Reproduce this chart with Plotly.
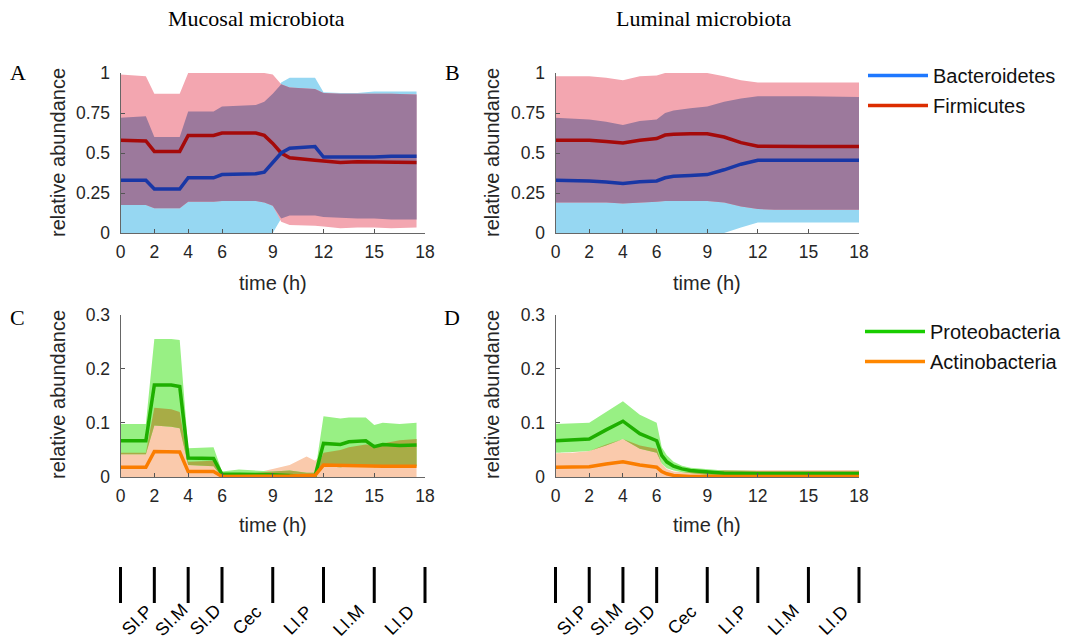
import plotly.graph_objects as go

# ---------------- data ----------------
xticks = [0, 2, 4, 6, 9, 12, 15, 18]
region_bounds = [0, 2, 4, 6, 9, 12, 15, 18]
region_labels = ["SI.P", "SI.M", "SI.D", "Cec", "LI.P", "LI.M", "LI.D"]

# Panel A - mucosal, Bacteroidetes / Firmicutes
tA = [0, 1.5, 2, 3.5, 4, 5.5, 6, 8, 8.5, 9, 9.5, 10, 11.5, 12, 13, 14, 15, 16, 17.5]
bacA_mean = [0.33, 0.33, 0.275, 0.275, 0.345, 0.345, 0.365, 0.37, 0.38, 0.44, 0.50, 0.53, 0.54, 0.475, 0.475, 0.47, 0.475, 0.48, 0.48]
bacA_hi = [0.72, 0.73, 0.60, 0.60, 0.76, 0.76, 0.79, 0.80, 0.82, 0.87, 0.94, 0.97, 0.97, 0.88, 0.875, 0.875, 0.885, 0.885, 0.885]
bacA_lo = [0, 0, 0, 0, 0, 0, 0, 0, 0, 0, 0.09, 0.11, 0.11, 0.10, 0.095, 0.09, 0.09, 0.085, 0.085]
firA_mean = [0.58, 0.575, 0.51, 0.51, 0.61, 0.61, 0.625, 0.625, 0.61, 0.56, 0.50, 0.47, 0.455, 0.45, 0.44, 0.445, 0.445, 0.445, 0.44]
firA_hi = [0.99, 0.98, 0.87, 0.87, 1.0, 1.0, 1.0, 1.0, 1.0, 0.99, 0.93, 0.91, 0.90, 0.875, 0.87, 0.87, 0.87, 0.87, 0.865]
firA_lo = [0.175, 0.175, 0.155, 0.155, 0.195, 0.195, 0.2, 0.2, 0.19, 0.17, 0.07, 0.05, 0.045, 0.04, 0.03, 0.035, 0.035, 0.03, 0.035]

# Panel B - luminal, Bacteroidetes / Firmicutes
tB = [0, 1, 2, 3, 4, 5, 6, 6.5, 7, 8, 9, 10, 11, 12, 13, 15, 18]
bacB_mean = [0.33, 0.328, 0.325, 0.318, 0.31, 0.32, 0.325, 0.345, 0.355, 0.36, 0.365, 0.395, 0.43, 0.455, 0.455, 0.455, 0.455]
bacB_hi = [0.72, 0.715, 0.71, 0.695, 0.675, 0.70, 0.71, 0.75, 0.765, 0.78, 0.79, 0.82, 0.84, 0.855, 0.855, 0.855, 0.85]
bacB_lo = [0, 0, 0, 0, 0, 0, 0, 0, 0, 0, 0, 0, 0.035, 0.065, 0.065, 0.065, 0.065]
firB_mean = [0.58, 0.58, 0.58, 0.572, 0.563, 0.58, 0.59, 0.612, 0.617, 0.62, 0.62, 0.60, 0.565, 0.542, 0.54, 0.54, 0.54]
firB_hi = [0.98, 0.98, 0.98, 0.97, 0.955, 0.98, 0.985, 1.0, 1.0, 1.0, 1.0, 0.98, 0.955, 0.94, 0.94, 0.94, 0.94]
firB_lo = [0.19, 0.19, 0.19, 0.19, 0.185, 0.19, 0.195, 0.2, 0.2, 0.2, 0.2, 0.19, 0.165, 0.15, 0.145, 0.145, 0.145]

# Panel C - mucosal, Proteobacteria / Actinobacteria
tC = [0, 1.5, 2, 3, 3.5, 4, 5.5, 6, 7, 8, 9, 10, 11, 11.5, 12, 13, 13.5, 14.5, 15, 15.5, 16.5, 17.5]
proC_mean = [0.067, 0.067, 0.17, 0.17, 0.167, 0.035, 0.034, 0.005, 0.005, 0.005, 0.004, 0.003, 0.001, 0.002, 0.062, 0.06, 0.065, 0.067, 0.056, 0.06, 0.058, 0.059]
proC_hi = [0.098, 0.098, 0.255, 0.255, 0.253, 0.053, 0.055, 0.01, 0.014, 0.012, 0.01, 0.012, 0.008, 0.008, 0.112, 0.108, 0.11, 0.11, 0.096, 0.1, 0.098, 0.1]
proC_lo = [0.042, 0.042, 0.095, 0.093, 0.09, 0.022, 0.02, 0, 0, 0, 0, 0, 0, 0, 0.02, 0.018, 0.02, 0.022, 0.018, 0.02, 0.02, 0.02]
actC_mean = [0.018, 0.018, 0.047, 0.047, 0.046, 0.01, 0.01, 0.001, 0.001, 0.001, 0.001, 0.002, 0.003, 0.003, 0.022, 0.021, 0.022, 0.021, 0.02, 0.02, 0.02, 0.02]
actC_hi = [0.045, 0.045, 0.128, 0.125, 0.12, 0.028, 0.03, 0.004, 0.005, 0.008, 0.015, 0.022, 0.038, 0.03, 0.045, 0.05, 0.055, 0.06, 0.058, 0.062, 0.068, 0.07]
actC_lo = [0] * len(tC)

# Panel D - luminal, Proteobacteria / Actinobacteria
tD = [0, 1, 2, 3, 4, 5, 6, 6.3, 6.6, 7, 7.5, 8, 9, 10, 12, 15, 18]
proD_mean = [0.067, 0.068, 0.07, 0.087, 0.103, 0.08, 0.067, 0.04, 0.028, 0.02, 0.015, 0.012, 0.009, 0.007, 0.006, 0.006, 0.006]
proD_hi = [0.098, 0.099, 0.1, 0.12, 0.14, 0.115, 0.1, 0.055, 0.04, 0.028, 0.021, 0.017, 0.014, 0.012, 0.011, 0.011, 0.011]
proD_lo = [0.045, 0.046, 0.048, 0.058, 0.07, 0.052, 0.045, 0.025, 0.016, 0.012, 0.009, 0.007, 0.004, 0.003, 0.002, 0.002, 0.002]
actD_mean = [0.018, 0.019, 0.019, 0.024, 0.028, 0.022, 0.018, 0.01, 0.006, 0.003, 0.002, 0.001, 0.001, 0.001, 0.001, 0.001, 0.001]
actD_hi = [0.044, 0.045, 0.048, 0.06, 0.07, 0.058, 0.052, 0.025, 0.015, 0.01, 0.009, 0.009, 0.01, 0.012, 0.012, 0.013, 0.013]
actD_lo = [0] * len(tD)

# ---------------- styles ----------------
BAC_BAND, FIR_BAND, BF_OVER = "rgb(150,215,242)", "rgb(243,166,176)", "rgb(156,121,156)"
BAC_LINE, FIR_LINE = "rgb(25,55,165)", "rgb(165,10,10)"
PRO_BAND, ACT_BAND, PA_OVER = "rgb(152,240,132)", "rgb(250,202,172)", "rgb(168,172,70)"
PRO_LINE, ACT_LINE = "rgb(30,175,0)", "rgb(250,125,0)"
LEG = {"Bacteroidetes": "rgb(30,120,255)", "Firmicutes": "rgb(220,45,0)",
       "Proteobacteria": "rgb(25,205,0)", "Actinobacteria": "rgb(255,135,0)"}

SANS = "Liberation Sans, Arial, sans-serif"
SERIF = "Liberation Serif, Times New Roman, serif"
TXT = "#262626"

fig = go.Figure()


def band(t, lo, hi, color, xa, ya):
    fig.add_trace(go.Scatter(x=list(t) + list(t)[::-1], y=list(hi) + list(lo)[::-1],
                             fill="toself", fillcolor=color, line=dict(width=0),
                             mode="lines", hoverinfo="skip", showlegend=False,
                             xaxis=xa, yaxis=ya))


def panel(t, s1, s2, c1, c2, cov, l1, l2, xa, ya):
    m1, lo1, hi1 = s1
    m2, lo2, hi2 = s2
    band(t, lo1, hi1, c1, xa, ya)
    band(t, lo2, hi2, c2, xa, ya)
    olo = [max(a, b) for a, b in zip(lo1, lo2)]
    ohi = [min(a, b) for a, b in zip(hi1, hi2)]
    ohi = [max(h, l) for h, l in zip(ohi, olo)]
    band(t, olo, ohi, cov, xa, ya)
    fig.add_trace(go.Scatter(x=t, y=m2, mode="lines", line=dict(color=l2, width=3.5),
                             showlegend=False, xaxis=xa, yaxis=ya))
    fig.add_trace(go.Scatter(x=t, y=m1, mode="lines", line=dict(color=l1, width=3.5),
                             showlegend=False, xaxis=xa, yaxis=ya))


panel(tA, (bacA_mean, bacA_lo, bacA_hi), (firA_mean, firA_lo, firA_hi),
      BAC_BAND, FIR_BAND, BF_OVER, BAC_LINE, FIR_LINE, "x", "y")
panel(tB, (bacB_mean, bacB_lo, bacB_hi), (firB_mean, firB_lo, firB_hi),
      BAC_BAND, FIR_BAND, BF_OVER, BAC_LINE, FIR_LINE, "x2", "y2")
panel(tC, (actC_mean, actC_lo, actC_hi), (proC_mean, proC_lo, proC_hi),
      ACT_BAND, PRO_BAND, PA_OVER, ACT_LINE, PRO_LINE, "x3", "y3")
panel(tD, (actD_mean, actD_lo, actD_hi), (proD_mean, proD_lo, proD_hi),
      ACT_BAND, PRO_BAND, PA_OVER, ACT_LINE, PRO_LINE, "x4", "y4")

# gut region boundary bars (own hidden axes below each column)
for xa, ya in [("x5", "y5"), ("x6", "y6")]:
    bx, by = [], []
    for b in region_bounds:
        bx += [b, b, None]
        by += [0, 1, None]
    fig.add_trace(go.Scatter(x=bx, y=by, mode="lines", line=dict(color="black", width=3),
                             showlegend=False, hoverinfo="skip", xaxis=xa, yaxis=ya))

# legend entries
for name in ["Bacteroidetes", "Firmicutes"]:
    fig.add_trace(go.Scatter(x=[None], y=[None], mode="lines", name=name,
                             line=dict(color=LEG[name], width=3.5), legend="legend",
                             legendgroup=name, xaxis="x", yaxis="y"))
for name in ["Proteobacteria", "Actinobacteria"]:
    fig.add_trace(go.Scatter(x=[None], y=[None], mode="lines", name=name,
                             line=dict(color=LEG[name], width=3.5), legend="legend2",
                             legendgroup=name, xaxis="x3", yaxis="y3"))

W, H = 1065, 640
px = lambda v: v / W
py = lambda v: 1 - v / H

xcommon = dict(range=[0, 18], tickvals=xticks, ticktext=[str(v) for v in xticks],
               ticks="inside", ticklen=4, tickcolor="#555", showline=True, linecolor="#666",
               linewidth=1, showgrid=False, zeroline=False, fixedrange=True,
               tickfont=dict(family=SANS, size=17.5, color=TXT), ticklabelstandoff=3)
ycommon = dict(ticks="inside", ticklen=4, tickcolor="#555", showline=True, linecolor="#666",
               linewidth=1, showgrid=False, zeroline=False, fixedrange=True,
               tickfont=dict(family=SANS, size=17.5, color=TXT), ticklabelstandoff=6)
hidden = dict(visible=False, fixedrange=True, showgrid=False, zeroline=False)
y1ticks = [0, 0.25, 0.5, 0.75, 1]
y2ticks = [0, 0.1, 0.2, 0.3]

A_L, A_R, B_L, B_R = 120.5, 425.0, 555.5, 859.0
dxA = [px(A_L), px(A_R)]
dxB = [px(B_L), px(B_R)]
dyT = [py(233), py(73)]
dyB = [py(477), py(314.5)]
dyS = [py(603), py(567)]

# hidden strip axes: same scale as the panels, padded so the end bars are not clipped
PAD = 0.5
padA = PAD * (A_R - A_L) / 18
padB = PAD * (B_R - B_L) / 18
dxA_s = [px(A_L - padA), px(A_R + padA)]
dxB_s = [px(B_L - padB), px(B_R + padB)]

fig.update_layout(
    width=W, height=H, margin=dict(l=0, r=0, t=0, b=0, autoexpand=False),
    paper_bgcolor="white", plot_bgcolor="rgba(0,0,0,0)",
    xaxis=dict(domain=dxA, anchor="y", **xcommon),
    xaxis2=dict(domain=dxB, anchor="y2", **xcommon),
    xaxis3=dict(domain=dxA, anchor="y3", **xcommon),
    xaxis4=dict(domain=dxB, anchor="y4", **xcommon),
    xaxis5=dict(domain=dxA_s, anchor="y5", range=[-PAD, 18 + PAD], **hidden),
    xaxis6=dict(domain=dxB_s, anchor="y6", range=[-PAD, 18 + PAD], **hidden),
    yaxis=dict(domain=dyT, anchor="x", range=[0, 1], tickvals=y1ticks,
               ticktext=["0", "0.25", "0.5", "0.75", "1"], **ycommon),
    yaxis2=dict(domain=dyT, anchor="x2", range=[0, 1], tickvals=y1ticks,
                ticktext=["0", "0.25", "0.5", "0.75", "1"], **ycommon),
    yaxis3=dict(domain=dyB, anchor="x3", range=[0, 0.3], tickvals=y2ticks,
                ticktext=["0", "0.1", "0.2", "0.3"], **ycommon),
    yaxis4=dict(domain=dyB, anchor="x4", range=[0, 0.3], tickvals=y2ticks,
                ticktext=["0", "0.1", "0.2", "0.3"], **ycommon),
    yaxis5=dict(domain=dyS, anchor="x5", range=[0, 1], **hidden),
    yaxis6=dict(domain=dyS, anchor="x6", range=[0, 1], **hidden),
    legend=dict(x=px(863), y=py(56), xanchor="left", yanchor="top",
                font=dict(family=SANS, size=20, color="#111"), itemwidth=60,
                tracegroupgap=1, bgcolor="rgba(0,0,0,0)"),
    legend2=dict(x=px(860), y=py(312), xanchor="left", yanchor="top",
                 font=dict(family=SANS, size=20, color="#111"), itemwidth=60,
                 tracegroupgap=1, bgcolor="rgba(0,0,0,0)"),
)

ann = []


def text(t, x, y, size, family=SANS, color=TXT, angle=0, xref="paper"):
    ann.append(dict(text=t, x=x, y=y, xref=xref, yref="paper", xanchor="center",
                    yanchor="middle", textangle=angle, showarrow=False,
                    font=dict(family=family, size=size, color=color)))


# titles
text("Mucosal microbiota", px(256), py(19), 22, SERIF, "black")
text("Luminal microbiota", px(704), py(19), 22, SERIF, "black")
# panel letters
for letter, xx, yy in [("A", 18, 73), ("B", 452, 73), ("C", 18, 317), ("D", 452, 317)]:
    text(letter, px(xx), py(yy), 22, SERIF, "black")
# axis titles
for xx in [58, 492]:
    for yc in [153, 395]:
        text("relative abundance", px(xx), py(yc), 20, angle=-90)
for xc in [272.5, 707]:
    for yc in [283, 525]:
        text("time (h)", px(xc), py(yc), 20)
# gut region labels
for xa in ["x5", "x6"]:
    for i, lab in enumerate(region_labels):
        mid = (region_bounds[i] + region_bounds[i + 1]) / 2
        text(lab, mid, py(620), 18, color="black", angle=-45, xref=xa)

fig.update_layout(annotations=ann)
fig.write_html("out.html", config={"displayModeBar": False},
               post_script="document.body.style.margin='0px';document.body.style.overflow='hidden';")
